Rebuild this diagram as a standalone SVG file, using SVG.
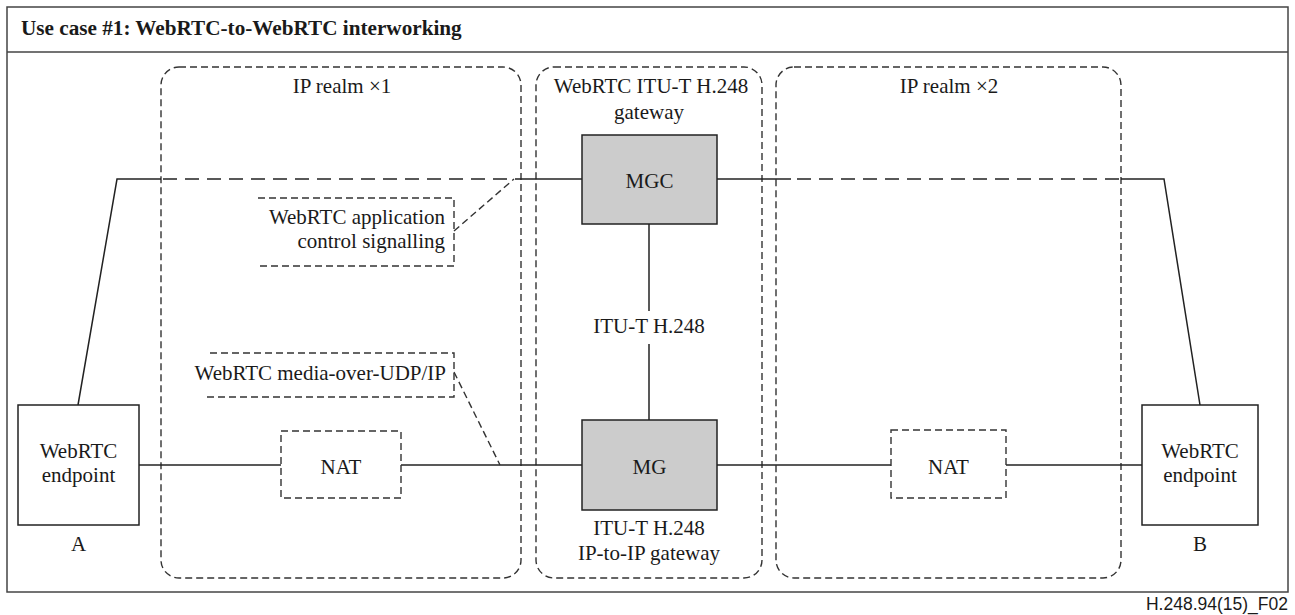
<svg xmlns="http://www.w3.org/2000/svg" width="1295" height="615" viewBox="0 0 1295 615">
<style>
text{font-family:"Liberation Serif","Times New Roman",serif;font-size:21px;fill:#1a1a1a}
.c{text-anchor:middle}
.e{text-anchor:end}
.realm{fill:none;stroke:#333;stroke-width:1.4;stroke-dasharray:7 4}
.dbox{fill:none;stroke:#333;stroke-width:1.4;stroke-dasharray:7 4}
.solid{fill:none;stroke:#222;stroke-width:1.5}
.ldash{fill:none;stroke:#222;stroke-width:1.5;stroke-dasharray:14 8}
.gray{fill:#cccccc;stroke:#222;stroke-width:1.5}
.box{fill:#fff;stroke:#222;stroke-width:1.5}
</style>
<rect x="0" y="0" width="1295" height="615" fill="#fff"/>
<g id="frame">
<rect x="7" y="7" width="1281" height="585" fill="none" stroke="#444" stroke-width="1.5"/>
<line x1="7" y1="52" x2="1288" y2="52" stroke="#444" stroke-width="1.5"/>
<text x="21" y="35" style="font-weight:bold;font-size:21.2px">Use case #1: WebRTC-to-WebRTC interworking</text>
</g>
<g id="realm1">
<rect class="realm" x="161" y="67" width="360" height="511" rx="18"/>
<text class="c" x="342" y="93">IP realm ×1</text>
</g>
<g id="gateway">
<rect class="realm" x="536" y="67" width="226" height="511" rx="18"/>
<text class="c" x="651" y="93">WebRTC ITU-T H.248</text>
<text class="c" x="649" y="119">gateway</text>
<text class="c" x="649" y="535">ITU-T H.248</text>
<text class="c" x="649" y="560">IP-to-IP gateway</text>
</g>
<g id="realm2">
<rect class="realm" x="776" y="67" width="345" height="511" rx="18"/>
<text class="c" x="949" y="93">IP realm ×2</text>
</g>
<g id="connectors">
<polyline class="solid" points="78,405 117,179 161,179"/>
<line class="ldash" x1="163" y1="179" x2="521" y2="179"/>
<line class="solid" x1="521" y1="179" x2="582" y2="179"/>
<line class="solid" x1="717" y1="179" x2="791" y2="179"/>
<line class="ldash" x1="797" y1="179" x2="1121" y2="179"/>
<polyline class="solid" points="1121,179 1164,179 1200,405"/>
<line class="solid" x1="649" y1="224" x2="649" y2="311"/>
<line class="solid" x1="649" y1="344" x2="649" y2="420"/>
<line class="solid" x1="139" y1="465" x2="281" y2="465"/>
<line class="solid" x1="401" y1="465" x2="582" y2="465"/>
<line class="solid" x1="717" y1="465" x2="891" y2="465"/>
<line class="solid" x1="1006" y1="465" x2="1142" y2="465"/>
<text class="c" x="649" y="333">ITU-T H.248</text>
</g>
<g id="callout-signalling">
<path class="dbox" d="M258,198 H454 V266 H258"/>
<line class="dbox" x1="454" y1="231" x2="514" y2="179"/>
<text class="e" x="445" y="224">WebRTC application</text>
<text class="e" x="445" y="248">control signalling</text>
</g>
<g id="callout-media">
<path class="dbox" d="M210,353 H454 V397 H206"/>
<line class="dbox" x1="454" y1="372" x2="500" y2="465"/>
<text class="e" x="446" y="380">WebRTC media-over-UDP/IP</text>
</g>
<g id="mgc">
<rect class="gray" x="582" y="135" width="135" height="89"/>
<text class="c" x="649.5" y="188">MGC</text>
</g>
<g id="mg">
<rect class="gray" x="582" y="420" width="135" height="90"/>
<text class="c" x="649.5" y="474">MG</text>
</g>
<g id="nat1">
<rect class="dbox" x="281" y="431" width="120" height="67" fill="#fff"/>
<text class="c" x="341" y="474">NAT</text>
</g>
<g id="nat2">
<rect class="dbox" x="891" y="430" width="115" height="68"/>
<text class="c" x="948.5" y="474">NAT</text>
</g>
<g id="endpointA">
<rect class="box" x="18" y="405" width="121" height="120"/>
<text class="c" x="78.5" y="458">WebRTC</text>
<text class="c" x="78.5" y="482">endpoint</text>
<text class="c" x="78.5" y="551">A</text>
</g>
<g id="endpointB">
<rect class="box" x="1142" y="405" width="116" height="120"/>
<text class="c" x="1200" y="458">WebRTC</text>
<text class="c" x="1200" y="482">endpoint</text>
<text class="c" x="1200" y="551">B</text>
</g>
<text x="1288" y="610" text-anchor="end" style="font-family:'Liberation Sans',Arial,sans-serif;font-size:17.5px">H.248.94(15)_F02</text>
</svg>
